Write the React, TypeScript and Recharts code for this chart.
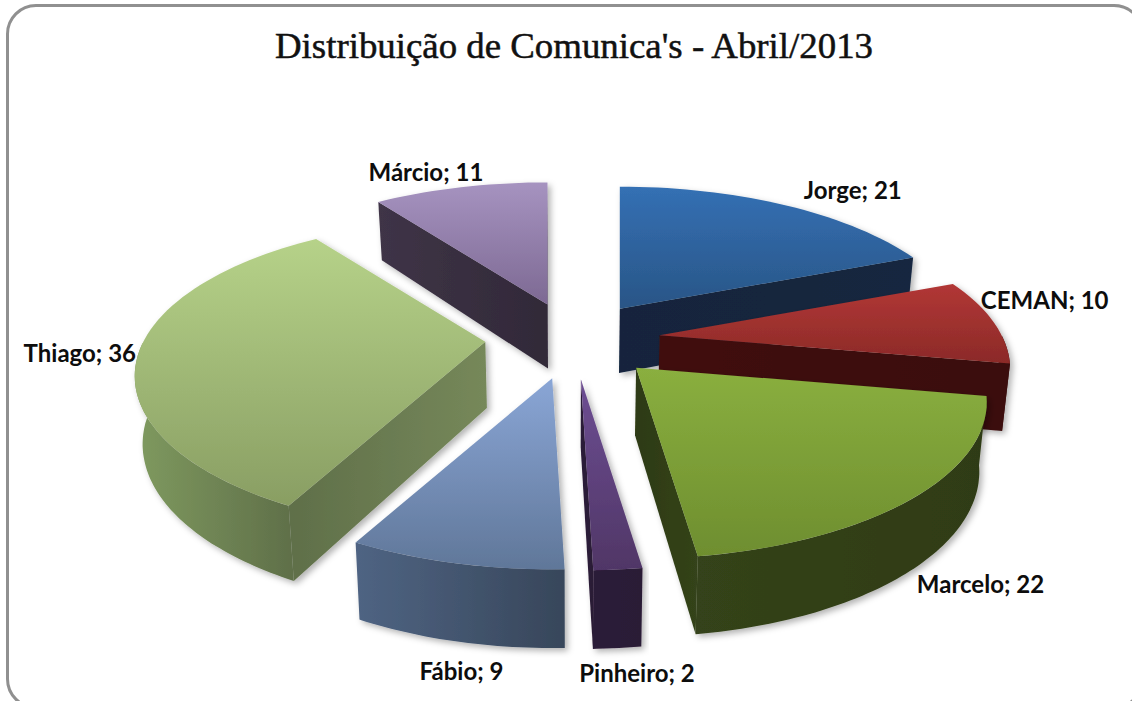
import React from 'react';
import { PieChart, Pie } from 'recharts';

const NAMES = ['Jorge', 'CEMAN', 'Marcelo', 'Pinheiro', 'Fábio', 'Thiago', 'Márcio'];
const VALUES = [21, 10, 22, 2, 9, 36, 11];

const TOP_LIGHT = ['#3470b4', '#b23735', '#8aaf3f', '#6d4e93', '#8aa6d6', '#b6d289', '#a693c0'];
const TOP_DARK = ['#295586', '#8b2a28', '#6e8e2f', '#503666', '#607799', '#899e63', '#7d6993'];
const WALL_LIGHT = ['#13294a', '#400f0e', '#34431a', '#2c1b38', '#4f6483', '#7f9a5f', '#3f3447'];
const WALL_DARK = ['#12243c', '#3a0e0d', '#2f3b13', '#2c1b36', '#37465a', '#5f6f49', '#312938'];
const CUT_LEFT = ['#12243c', '#400f0e', '#2d3a12', '#2c1b38', '#37465a', '#5f6f49', '#3f3447'];
const CUT_RIGHT = ['#14263f', '#3a0e0d', '#34431a', '#2c1b36', '#37465a', '#76885a', '#312938'];
const LABEL_NUDGE = [[71, -15], [52, -21], [63, 88], [19, 103], [7, 107], [-59, 0], [-35, -16]];

const data = NAMES.map((name, i) => ({ name, value: VALUES[i] }));

const CENTER_X = 573;
const CENTER_Y = 339;
const RADIUS = 342;
const EXPLODE = 0.256;
const SQUASH = 149 / 342;
const PERSPECTIVE = 0.22;

const rad = (d: number) => (d * Math.PI) / 180;

// pie-plane unit vector -> screen offset, angle in recharts degrees
const project = (angle: number, r: number) => {
  const X = Math.cos(rad(angle)) * r;
  const Y = -Math.sin(rad(angle)) * r;
  const den = 1 - PERSPECTIVE * Y;
  return { x: (RADIUS * X) / den, y: (RADIUS * SQUASH * Y) / den };
};

const apexOf = (cx: number, cy: number, mid: number) => {
  const o = project(mid, EXPLODE);
  return { x: cx + o.x, y: cy + o.y };
};

const down = (p: { x: number; y: number }, cx: number, cy: number) => ({
  x: p.x + (cx - p.x) * 0.018,
  y: p.y + 66 + 0.055 * (p.y - cy),
});

const toPath = (pts: { x: number; y: number }[]) =>
  'M' + pts.map(p => `${p.x.toFixed(1)},${p.y.toFixed(1)}`).join('L') + 'Z';

const Slice3D = (props: any) => {
  const { cx, cy, startAngle, endAngle, index } = props;
  const mid = (startAngle + endAngle) / 2;
  const apex = apexOf(cx, cy, mid);
  const at = (a: number) => {
    const o = project(a, 1);
    return { x: apex.x + o.x, y: apex.y + o.y };
  };

  const steps = Math.max(4, Math.ceil(Math.abs(endAngle - startAngle) / 2));
  const arc = [];
  for (let i = 0; i <= steps; i++) {
    arc.push(at(startAngle + ((endAngle - startAngle) * i) / steps));
  }

  // front part of the rim, below the horizontal through the apex
  const lo = Math.min(startAngle, endAngle);
  const hi = Math.max(startAngle, endAngle);
  const rim = [];
  for (let a = hi; a >= lo; a -= 1) {
    if (Math.sin(rad(a)) < 0) rim.push(at(a));
  }
  if (Math.sin(rad(lo)) < 0) rim.push(at(lo));

  const cut = (a: number) => {
    const p = at(a);
    return toPath([apex, p, down(p, cx, cy), down(apex, cx, cy)]);
  };
  // clockwise slices: first edge shows when it faces the viewer on its left, last edge on its right
  const startVisible = Math.cos(rad(startAngle)) < 0;
  const endVisible = Math.cos(rad(endAngle)) > 0;

  return (
    <g filter="url(#softShadow)">
      <defs>
        <linearGradient id={`top${index}`} x1="0" y1="0" x2="0" y2="1">
          <stop offset="0" stopColor={TOP_LIGHT[index]} />
          <stop offset="1" stopColor={TOP_DARK[index]} />
        </linearGradient>
        <linearGradient id={`wall${index}`} x1="0" y1="0" x2="1" y2="0">
          <stop offset="0" stopColor={WALL_LIGHT[index]} />
          <stop offset="1" stopColor={WALL_DARK[index]} />
        </linearGradient>
        <linearGradient id={`cut${index}`} x1="0" y1="0" x2="1" y2="0">
          <stop offset="0" stopColor={CUT_LEFT[index]} />
          <stop offset="1" stopColor={CUT_RIGHT[index]} />
        </linearGradient>
        <filter id="softShadow" x="-10%" y="-10%" width="120%" height="120%">
          <feDropShadow dx="3" dy="3" stdDeviation="3" floodColor="#000" floodOpacity="0.3" />
        </filter>
      </defs>
      {rim.length > 1 && (
        <path d={toPath([...rim, ...rim.slice().reverse().map(p => down(p, cx, cy))])} fill={`url(#wall${index})`} />
      )}
      {startVisible && <path d={cut(startAngle)} fill={`url(#cut${index})`} />}
      {endVisible && <path d={cut(endAngle)} fill={`url(#cut${index})`} />}
      <path d={toPath([apex, ...arc])} fill={`url(#top${index})`} />
    </g>
  );
};

const renderLabel = (props: any) => {
  const { cx, cy, startAngle, endAngle, index, name, value } = props;
  const mid = (startAngle + endAngle) / 2;
  const apex = apexOf(cx, cy, mid);
  const o = project(mid, 1);
  const [dx, dy] = LABEL_NUDGE[index];
  return (
    <text
      x={apex.x + o.x + dx}
      y={apex.y + o.y + dy}
      textAnchor="middle"
      dominantBaseline="central"
      fontFamily="Lato, sans-serif"
      fontWeight="700"
      fontSize={24}
      fill="#0d0d0d"
    >
      {`${name}; ${value}`}
    </text>
  );
};

export default function App() {
  return (
    <div style={{ position: 'absolute', left: 0, top: 0, width: 1132, height: 701, overflow: 'hidden', background: '#fff' }}>
      <div
        style={{
          position: 'absolute', left: 6, top: 4, width: 1132, height: 699,
          border: '3px solid #909090', borderRadius: 30, boxSizing: 'content-box',
        }}
      />
      <svg style={{ position: 'absolute', left: 0, top: 0 }} width={1132} height={90}>
        <text x={574} y={58} textAnchor="middle" fontFamily="'Liberation Serif', serif" fontSize={36} textLength={598} lengthAdjust="spacingAndGlyphs" fill="#111" stroke="#111" strokeWidth={0.5}>
          Distribuição de Comunica's - Abril/2013
        </text>
      </svg>
      <div style={{ position: 'absolute', left: 0, top: 0 }}>
        <PieChart width={1132} height={701} margin={{ top: 0, right: 0, bottom: 0, left: 0 }}>
          <Pie
            data={data}
            dataKey="value"
            nameKey="name"
            cx={CENTER_X}
            cy={CENTER_Y}
            outerRadius={RADIUS}
            startAngle={90}
            endAngle={-270}
            stroke="none"
            shape={Slice3D}
            label={renderLabel}
            labelLine={false}
            isAnimationActive={false}
          />
        </PieChart>
      </div>
    </div>
  );
}
